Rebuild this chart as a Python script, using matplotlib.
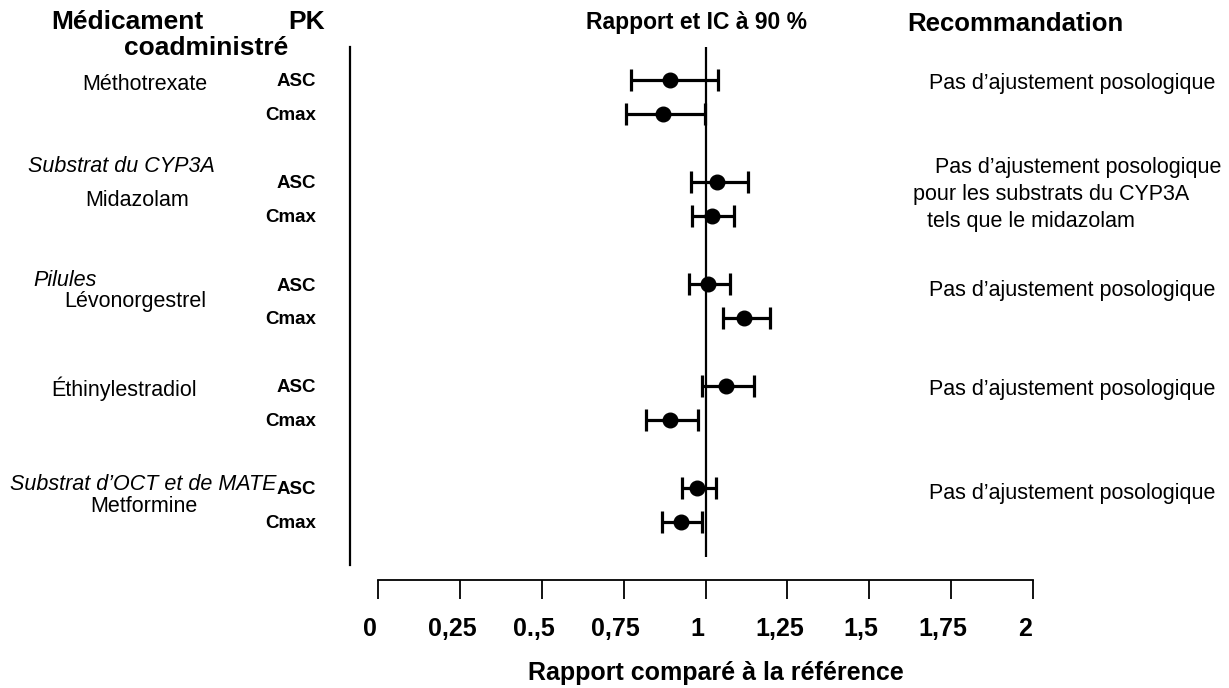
import matplotlib.pyplot as plt
from matplotlib.lines import Line2D
from matplotlib.transforms import ScaledTranslation

plt.rcParams['font.family'] = ['Liberation Sans', 'DejaVu Sans']

# data
pk = ['ASC', 'Cmax', 'ASC', 'Cmax', 'ASC', 'Cmax', 'ASC', 'Cmax', 'ASC', 'Cmax']
rows = [0, 1, 3, 4, 6, 7, 9, 10, 12, 13]
ratio = [0.892, 0.870, 1.035, 1.020, 1.008, 1.118, 1.062, 0.892, 0.973, 0.924]
ci_low = [0.773, 0.757, 0.956, 0.959, 0.950, 1.053, 0.989, 0.818, 0.927, 0.866]
ci_high = [1.038, 0.998, 1.130, 1.087, 1.075, 1.197, 1.148, 0.976, 1.032, 0.989]
ticks = [0, 0.25, 0.5, 0.75, 1, 1.25, 1.5, 1.75, 2]
tick_labels = ['0', '0,25', '0.,5', '0,75', '1', '1,25', '1,5', '1,75', '2']

W, H = 1229, 688
fig = plt.figure(figsize=(W / 100, H / 100), dpi=100)

def fx(px):
    return px / W

def fy(py):
    return 1 - py / H

ax = fig.add_axes([fx(378), fy(580), fx(1033) - fx(378), fy(47) - fy(580)])
ax.set_xlim(0, 2)
ax.set_ylim((580 - 80) / 34, (47 - 80) / 34)

err = [[r - l for r, l in zip(ratio, ci_low)], [h - r for r, h in zip(ratio, ci_high)]]
ax.errorbar(ratio, rows, xerr=err, fmt='o', color='black', ms=10.5,
            elinewidth=2.3, capsize=8, capthick=2.3, zorder=3)
ax.vlines(1, (47 - 80) / 34, (557 - 80) / 34, color='black', lw=1.6, zorder=2)

for s in ['top', 'left', 'right']:
    ax.spines[s].set_visible(False)
ax.spines['bottom'].set_linewidth(1.3)
ax.set_yticks([])
ax.set_xticks(ticks)
ax.set_xticklabels(tick_labels, fontsize=18, fontweight='bold')
ax.tick_params(axis='x', direction='out', length=14, width=1.3, pad=13)
# labels sit a little left of their ticks in the original
shift = ScaledTranslation(-0.08, 0, fig.dpi_scale_trans)
for lab in ax.get_xticklabels():
    lab.set_transform(lab.get_transform() + shift)
ax.set_xlabel('Rapport comparé à la référence', fontsize=18, fontweight='bold')
ax.xaxis.label.set_va('center')
ax.xaxis.set_label_coords((716 - 378) / 655, -(673 - 580) / 533)

# left separator line
fig.add_artist(Line2D([fx(350), fx(350)], [fy(47), fy(565)], color='black', lw=1.6))

# headers
fig.text(fx(127), fy(22), 'Médicament', fontsize=19, fontweight='bold', ha='center', va='center')
fig.text(fx(206), fy(48), 'coadministré', fontsize=19, fontweight='bold', ha='center', va='center')
fig.text(fx(307), fy(22), 'PK', fontsize=19, fontweight='bold', ha='center', va='center')
fig.text(fx(697), fy(23), 'Rapport et IC à 90 %', fontsize=16.5, fontweight='bold', ha='center', va='center')
fig.text(fx(1015), fy(24), 'Recommandation', fontsize=18.5, fontweight='bold', ha='center', va='center')

# PK labels
for r, lab in zip(rows, pk):
    fig.text(fx(316), fy(82 + 34 * r), lab, fontsize=13.5, fontweight='bold', ha='right', va='center')

# drug names
fig.text(fx(145), fy(84), 'Méthotrexate', fontsize=15.5, ha='center', va='center')
fig.text(fx(121), fy(167), 'Substrat du CYP3A', fontsize=15.5, style='italic', ha='center', va='center')
fig.text(fx(137), fy(200), 'Midazolam', fontsize=15.5, ha='center', va='center')
fig.text(fx(33), fy(281), 'Pilules', fontsize=15.5, style='italic', ha='left', va='center')
fig.text(fx(135), fy(302), 'Lévonorgestrel', fontsize=15.5, ha='center', va='center')
fig.text(fx(124), fy(389), 'Éthinylestradiol', fontsize=15.5, ha='center', va='center')
fig.text(fx(143), fy(485), 'Substrat d’OCT et de MATE', fontsize=15.5, style='italic', ha='center', va='center')
fig.text(fx(144), fy(507), 'Metformine', fontsize=15.5, ha='center', va='center')

# recommendations
fig.text(fx(1215), fy(84), 'Pas d’ajustement posologique', fontsize=15.5, ha='right', va='center')
fig.text(fx(935), fy(167), 'Pas d’ajustement posologique', fontsize=15.5, ha='left', va='center')
fig.text(fx(913), fy(194), 'pour les substrats du CYP3A', fontsize=15.5, ha='left', va='center')
fig.text(fx(927), fy(221), 'tels que le midazolam', fontsize=15.5, ha='left', va='center')
fig.text(fx(1215), fy(290), 'Pas d’ajustement posologique', fontsize=15.5, ha='right', va='center')
fig.text(fx(1215), fy(390), 'Pas d’ajustement posologique', fontsize=15.5, ha='right', va='center')
fig.text(fx(1215), fy(494), 'Pas d’ajustement posologique', fontsize=15.5, ha='right', va='center')

fig.savefig('out.png', dpi=100)
